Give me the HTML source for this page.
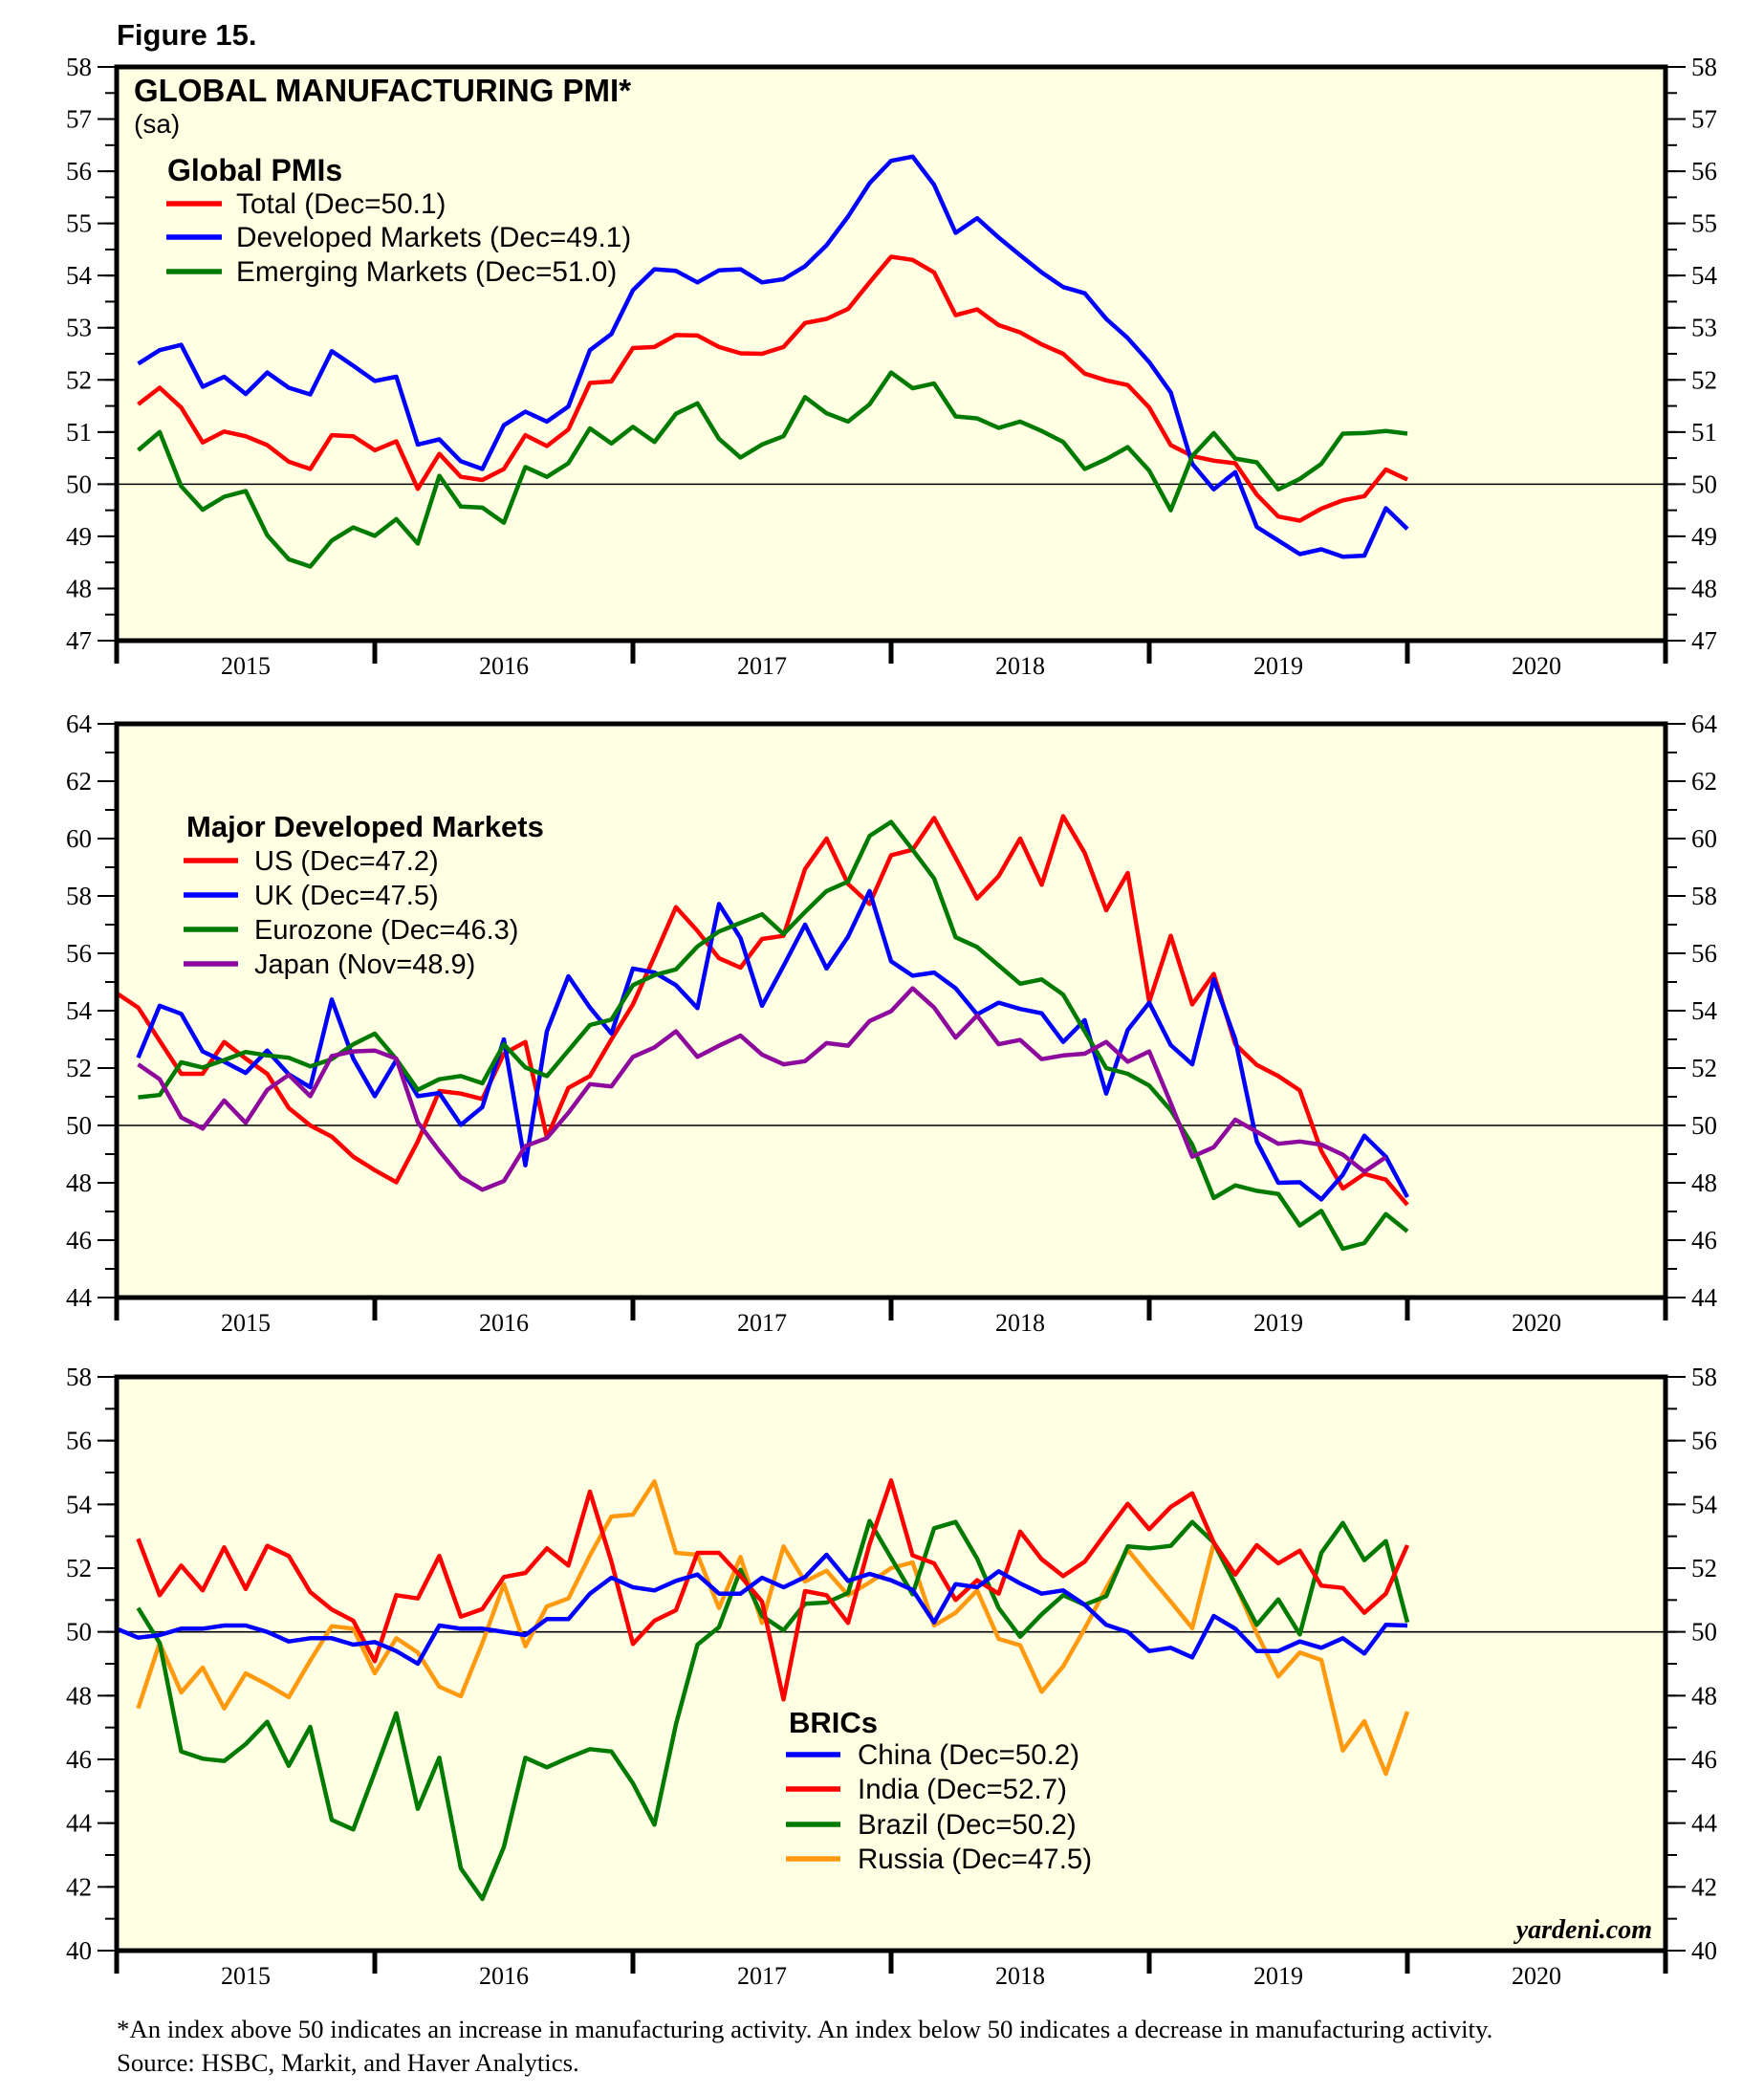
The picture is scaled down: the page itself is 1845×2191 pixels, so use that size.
<!DOCTYPE html>
<html><head><meta charset="utf-8"><title>Figure 15 - Global Manufacturing PMI</title>
<style>
html,body{margin:0;padding:0;background:#fff;}
svg{display:block;}
.sans{font-family:"Liberation Sans",Arial,sans-serif;}
.serif{font-family:"Liberation Serif","Times New Roman",serif;}
</style></head>
<body>
<svg id="chart" xmlns="http://www.w3.org/2000/svg" width="1845" height="2191" viewBox="0 0 1845 2191">
<rect x="0" y="0" width="1845" height="2191" fill="#fff"/>
<text class="sans" x="122" y="47" font-size="31" font-weight="bold">Figure 15.</text>
<g id="p1"></g>
<g id="p2"></g>
<g id="p3"></g>
<text class="serif" x="122" y="2131" font-size="26.8">*An index above 50 indicates an increase in manufacturing activity. An index below 50 indicates a decrease in manufacturing activity.</text>
<text class="serif" x="122" y="2166" font-size="26.8">Source: HSBC, Markit, and Haver Analytics.</text>
</svg>
<script>
// Monthly data, index 0 = Dec 2014, index 60 = Dec 2019
const yearLabels = ["2015","2016","2017","2018","2019","2020"];

const p1Total = [null,51.53,51.85,51.47,50.80,51.01,50.92,50.75,50.43,50.29,50.94,50.92,50.65,50.82,49.91,50.58,50.14,50.08,50.29,50.94,50.73,51.05,51.94,51.97,52.61,52.63,52.86,52.85,52.63,52.51,52.50,52.63,53.09,53.17,53.36,53.87,54.36,54.30,54.06,53.24,53.35,53.05,52.91,52.68,52.50,52.12,51.99,51.90,51.47,50.75,50.54,50.45,50.40,49.80,49.38,49.30,49.53,49.69,49.77,50.28,50.09];
const p1Developed = [null,52.31,52.57,52.67,51.87,52.06,51.73,52.14,51.85,51.72,52.55,52.27,51.98,52.06,50.76,50.86,50.44,50.29,51.13,51.39,51.20,51.49,52.57,52.88,53.72,54.12,54.09,53.87,54.10,54.12,53.87,53.93,54.18,54.58,55.13,55.77,56.20,56.28,55.74,54.82,55.10,54.73,54.39,54.06,53.78,53.66,53.17,52.80,52.34,51.76,50.39,49.90,50.23,49.18,48.92,48.66,48.75,48.61,48.63,49.54,49.14];
const p1Emerging = [null,50.65,51.00,49.96,49.51,49.76,49.87,49.02,48.56,48.42,48.92,49.17,49.01,49.33,48.86,50.16,49.57,49.55,49.26,50.33,50.14,50.40,51.07,50.78,51.10,50.81,51.35,51.55,50.87,50.51,50.76,50.92,51.67,51.36,51.20,51.53,52.14,51.84,51.93,51.30,51.26,51.08,51.20,51.02,50.81,50.29,50.48,50.71,50.26,49.50,50.54,50.98,50.49,50.42,49.90,50.10,50.39,50.97,50.98,51.02,50.97];

const p2US = [54.61,54.11,52.95,51.80,51.80,52.91,52.33,51.80,50.61,50.0,49.61,48.91,48.44,48.02,49.44,51.2,51.11,50.92,52.5,52.91,49.58,51.31,51.72,53.0,54.22,55.89,57.61,56.78,55.83,55.5,56.5,56.61,58.94,60.0,58.42,57.72,59.42,59.61,60.72,59.33,57.91,58.69,60.0,58.39,60.78,59.5,57.5,58.8,54.31,56.61,54.22,55.28,52.83,52.11,51.72,51.22,49.11,47.8,48.31,48.11,47.23];
const p2UK = [null,52.36,54.17,53.89,52.58,52.22,51.83,52.61,51.78,51.33,54.39,52.33,51.02,52.28,51.02,51.13,50.02,50.64,53.0,48.61,53.28,55.2,54.11,53.2,55.47,55.33,54.89,54.09,57.72,56.53,54.17,55.56,57.0,55.47,56.58,58.17,55.72,55.22,55.33,54.78,53.87,54.28,54.06,53.91,52.91,53.67,51.11,53.33,54.28,52.8,52.13,55.09,53.0,49.44,48.0,48.02,47.42,48.28,49.64,48.91,47.5];
const p2Euro = [null,50.98,51.06,52.2,52.02,52.28,52.56,52.44,52.36,52.06,52.31,52.83,53.2,52.31,51.24,51.61,51.72,51.47,52.83,52.02,51.72,52.61,53.5,53.69,54.89,55.24,55.44,56.24,56.76,57.06,57.36,56.67,57.44,58.17,58.5,60.09,60.58,59.61,58.61,56.56,56.22,55.58,54.94,55.09,54.56,53.28,52.0,51.8,51.39,50.53,49.33,47.47,47.91,47.72,47.61,46.51,47.02,45.7,45.9,46.91,46.31];
const p2Japan = [null,52.13,51.61,50.28,49.89,50.87,50.09,51.24,51.76,51.02,52.42,52.58,52.61,52.33,50.11,49.11,48.2,47.76,48.06,49.28,49.56,50.44,51.44,51.36,52.39,52.72,53.28,52.39,52.78,53.13,52.47,52.13,52.24,52.87,52.78,53.64,53.98,54.78,54.11,53.06,53.83,52.83,52.98,52.31,52.44,52.5,52.91,52.22,52.58,50.78,48.91,49.24,50.2,49.78,49.36,49.44,49.33,48.98,48.39,48.89,null];

const p3China = [50.1,49.82,49.9,50.1,50.1,50.2,50.2,50.0,49.7,49.8,49.8,49.6,49.68,49.4,49.0,50.2,50.1,50.1,50.0,49.9,50.4,50.4,51.2,51.7,51.4,51.3,51.6,51.8,51.2,51.2,51.7,51.4,51.72,52.42,51.6,51.82,51.62,51.32,50.3,51.5,51.4,51.9,51.52,51.2,51.3,50.85,50.22,50.0,49.4,49.5,49.2,50.5,50.1,49.4,49.4,49.7,49.5,49.8,49.32,50.22,50.2];
const p3India = [null,52.92,51.15,52.08,51.3,52.65,51.35,52.7,52.38,51.25,50.7,50.35,49.08,51.15,51.05,52.38,50.48,50.72,51.72,51.85,52.62,52.08,54.4,52.2,49.62,50.35,50.68,52.48,52.48,51.75,50.95,47.88,51.28,51.15,50.28,52.75,54.75,52.4,52.15,51.0,51.62,51.2,53.15,52.28,51.75,52.2,53.12,54.02,53.22,53.92,54.35,52.8,51.8,52.72,52.15,52.55,51.45,51.38,50.6,51.2,52.72];
const p3Brazil = [null,50.75,49.65,46.25,46.02,45.95,46.48,47.18,45.8,47.02,44.1,43.8,45.6,47.45,44.45,46.05,42.58,41.62,43.25,46.05,45.75,46.05,46.32,46.25,45.25,43.95,47.1,49.6,50.15,51.95,50.5,50.05,50.88,50.92,51.22,53.48,52.32,51.18,53.25,53.45,52.3,50.75,49.85,50.55,51.15,50.85,51.12,52.68,52.62,52.7,53.45,52.8,51.5,50.22,51.02,49.92,52.48,53.42,52.25,52.85,50.3];
const p3Russia = [null,47.6,49.65,48.1,48.88,47.6,48.7,48.35,47.95,49.1,50.18,50.1,48.7,49.8,49.35,48.28,47.98,49.65,51.5,49.55,50.8,51.05,52.4,53.62,53.68,54.72,52.48,52.42,50.75,52.35,50.28,52.68,51.58,51.92,51.15,51.55,52.0,52.18,50.2,50.6,51.3,49.78,49.58,48.12,48.92,50.1,51.38,52.58,51.75,50.95,50.12,52.78,51.5,49.95,48.6,49.35,49.12,46.28,47.2,45.55,47.5];

const p1Ticks = [47,48,49,50,51,52,53,54,55,56,57,58];
const p2Ticks = [44,46,48,50,52,54,56,58,60,62,64];
const p3Ticks = [40,42,44,46,48,50,52,54,56,58];

const NS = "http://www.w3.org/2000/svg";
const L = 122, R = 1742, MONTH = 22.5;
function xPos(k){ return L + k*MONTH; }
function mk(tag, attrs, parent){
  const e = document.createElementNS(NS, tag);
  for (const a in attrs) e.setAttribute(a, attrs[a]);
  parent.appendChild(e);
  return e;
}

function drawPanel(g, top, bottom, vmin, vmax, ticks, minorStep, series){
  const yPos = v => top + (vmax - v) * (bottom - top) / (vmax - vmin);
  const bg = mk('rect', {x:L, y:top, width:R-L, height:bottom-top, fill:'#FFFFE3'}, g);
  
  
  const ref = mk('line', {x1:L, x2:R, y1:yPos(50), y2:yPos(50), stroke:'#000', 'stroke-width':1.6}, g);
  
  
  for (let v = vmin; v <= vmax + 1e-9; v += minorStep){
    const y = yPos(v);
    const lt = mk('line', {x1:L-12, x2:L, y1:y, y2:y, stroke:'#000', 'stroke-width':2}, g);
    
    
    const rt = mk('line', {x1:R, x2:R+12, y1:y, y2:y, stroke:'#000', 'stroke-width':2}, g);
    
    
  }
  ticks.forEach(v => {
    const y = yPos(v);
    const lt = mk('line', {x1:L-20, x2:L, y1:y, y2:y, stroke:'#000', 'stroke-width':2}, g);
    
    
    const rt = mk('line', {x1:R, x2:R+21, y1:y, y2:y, stroke:'#000', 'stroke-width':2}, g);
    
    
    const tl = mk('text', {x:96, y:y+9, 'text-anchor':'end', 'font-size':27, class:'serif'}, g);
    tl.textContent = v;
    
    
    const tr = mk('text', {x:1769, y:y+9, 'font-size':27, class:'serif'}, g);
    tr.textContent = v;
    
    
  });
  series.forEach(s => {
    let d = '';
    let pen = false;
    s.data.forEach((v, k) => {
      if (v === null){ pen = false; return; }
      d += (pen ? 'L' : 'M') + xPos(k).toFixed(1) + ' ' + yPos(v).toFixed(1) + ' ';
      pen = true;
    });
    const p = mk('path', {d:d, fill:'none', stroke:s.color, 'stroke-width':4.5, 'stroke-linejoin':'round'}, g);
    
    
  });
  const fr = mk('rect', {x:L, y:top, width:R-L, height:bottom-top, fill:'none', stroke:'#000', 'stroke-width':5}, g);
  
  
  for (let yr = 0; yr <= yearLabels.length; yr++){
    const x = L + yr*12*MONTH;
    const t = mk('line', {x1:x, x2:x, y1:bottom, y2:bottom+24, stroke:'#000', 'stroke-width':5}, g);
    
    
  }
  yearLabels.forEach((lab, yr) => {
    const t = mk('text', {x:L + (yr+0.5)*12*MONTH, y:bottom+35, 'text-anchor':'middle', 'font-size':26, class:'serif'}, g);
    t.textContent = lab;
    
    
  });
  return yPos;
}

function legend(g, title, tx, ty, tsize, lx1, lx2, textX, rows, fsize){
  const t = mk('text', {x:tx, y:ty, 'font-size':tsize, 'font-weight':'bold', class:'sans'}, g);
  t.textContent = title;
  
  
  rows.forEach(r => {
    const ln = mk('line', {x1:lx1, x2:lx2, y1:r.y, y2:r.y, stroke:r.color, 'stroke-width':5.5}, g);
    
    
    const tt = mk('text', {x:textX, y:r.y+10, 'font-size':fsize, class:'sans'}, g);
    tt.textContent = r.label;
    
    
  });
}

const RED='#FF0000', BLUE='#0000FF', GREEN='#007A00', PURPLE='#8E0A9C', ORANGE='#FF9A10';

// Panel 1
const g1 = document.getElementById('p1');
drawPanel(g1, 70, 670, 47, 58, p1Ticks, 0.5, [
  {name:'total', color:RED, data:p1Total},
  {name:'developed-markets', color:BLUE, data:p1Developed},
  {name:'emerging-markets', color:GREEN, data:p1Emerging}
]);
(function(){
  const t = mk('text', {x:140, y:106, 'font-size':33, 'font-weight':'bold', class:'sans'}, g1);
  t.textContent = 'GLOBAL MANUFACTURING PMI*';
  
  
  const s = mk('text', {x:140, y:139, 'font-size':28, class:'sans'}, g1);
  s.textContent = '(sa)';
  
  
})();
legend(g1, 'Global PMIs', 175, 189, 32, 174, 232, 247, [
  {y:213, color:RED, label:'Total (Dec=50.1)'},
  {y:248, color:BLUE, label:'Developed Markets (Dec=49.1)'},
  {y:284, color:GREEN, label:'Emerging Markets (Dec=51.0)'}
], 29.8);

// Panel 2
const g2 = document.getElementById('p2');
drawPanel(g2, 757, 1357, 44, 64, p2Ticks, 1, [
  {name:'us', color:RED, data:p2US},
  {name:'uk', color:BLUE, data:p2UK},
  {name:'eurozone', color:GREEN, data:p2Euro},
  {name:'japan', color:PURPLE, data:p2Japan}
]);
legend(g2, 'Major Developed Markets', 195, 875, 31, 192, 249, 266, [
  {y:900, color:RED, label:'US (Dec=47.2)'},
  {y:936, color:BLUE, label:'UK (Dec=47.5)'},
  {y:972, color:GREEN, label:'Eurozone (Dec=46.3)'},
  {y:1008, color:PURPLE, label:'Japan (Nov=48.9)'}
], 29);

// Panel 3
const g3 = document.getElementById('p3');
drawPanel(g3, 1440, 2040, 40, 58, p3Ticks, 1, [
  {name:'russia', color:ORANGE, data:p3Russia},
  {name:'brazil', color:GREEN, data:p3Brazil},
  {name:'india', color:RED, data:p3India},
  {name:'china', color:BLUE, data:p3China}
]);
legend(g3, 'BRICs', 825, 1812, 31, 822, 879, 897, [
  {y:1835, color:BLUE, label:'China (Dec=50.2)'},
  {y:1871, color:RED, label:'India (Dec=52.7)'},
  {y:1908, color:GREEN, label:'Brazil (Dec=50.2)'},
  {y:1944, color:ORANGE, label:'Russia (Dec=47.5)'}
], 29.5);
(function(){
  const t = mk('text', {x:1728, y:2027, 'text-anchor':'end', 'font-size':28, 'font-weight':'bold', 'font-style':'italic', class:'serif'}, g3);
  t.textContent = 'yardeni.com';
  
  
})();
</script>
</body></html>
